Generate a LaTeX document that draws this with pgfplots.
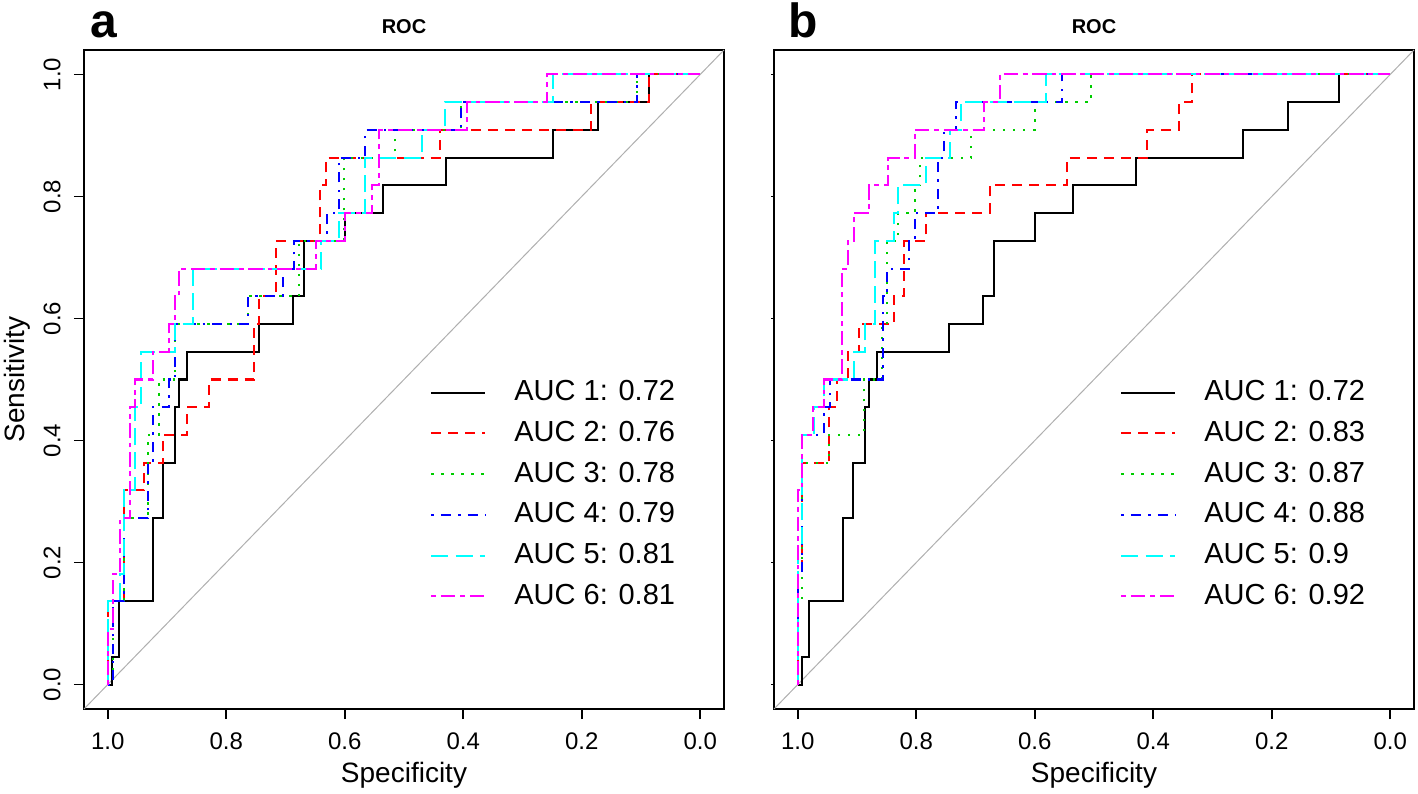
\documentclass[border=0pt]{standalone}
\usepackage{fontspec}
\setmainfont{Liberation Sans}
\usepackage{pgfplots}
\pgfplotsset{compat=1.18}
\definecolor{rgreen}{RGB}{0,205,0}
\definecolor{rred}{RGB}{255,0,0}
\definecolor{rblue}{RGB}{0,0,255}
\definecolor{rcyan}{RGB}{0,255,255}
\definecolor{rmagenta}{RGB}{255,0,255}
\definecolor{rgrey}{RGB}{175,175,175}
\pgfplotsset{
 rocaxis/.style={
  scale only axis, width=320pt, height=329.5pt,
  xmin=-0.04, xmax=1.04, ymin=-0.04, ymax=1.04, x dir=reverse,
  xtick={0,0.2,0.4,0.6,0.8,1}, xticklabels={0.0,0.2,0.4,0.6,0.8,1.0},
  ytick={0,0.2,0.4,0.6,0.8,1},
  tick align=outside, major tick length=5pt, tick pos=left,
  axis line style={line width=0.9pt}, tick style={black, line width=0.9pt},
  tick label style={font=\fontsize{12}{14}\selectfont},
  xticklabel style={anchor=base, yshift=-15pt},
  clip=false,
  title=ROC, every axis title shift=0pt,
  title style={font=\bfseries\fontsize{10}{12}\selectfont, at={(axis description cs:0.5,1.0243)}, anchor=base},
  xlabel=Specificity,
  xlabel style={font=\fontsize{14}{16}\selectfont, at={(axis description cs:0.5,-0.1108)}, anchor=base},
  legend style={at={(axis description cs:0.5406,0.5017)}, anchor=north west, draw=none, fill=none,
    font=\fontsize{14.5}{16}\selectfont, row sep=6.35pt, column sep=14pt, inner sep=0pt,
    nodes={inner sep=0pt, text height=11pt, text depth=3pt}},
  legend cell align=left,
  legend image code/.code={\draw[#1] (0pt,0pt) -- (27pt,0pt);},
 },
 s1/.style={black, line width=1pt, solid},
 s2/.style={rred, line width=1pt, dash pattern=on 5pt off 3.5pt},
 s3/.style={rgreen, line width=1pt, dash pattern=on 1.2pt off 3.8pt},
 s4/.style={rblue, line width=1pt, dash pattern=on 1.2pt off 3.6pt on 5pt off 3.6pt},
 s5/.style={rcyan, line width=1pt, dash pattern=on 8.5pt off 3.6pt},
 s6/.style={rmagenta, line width=1pt, dash pattern=on 2.4pt off 2.4pt on 7.2pt off 2.4pt},
}
\begin{document}
\begin{tikzpicture}
\path[use as bounding box] (0,0) rectangle (709pt,396.5pt);
% ---------------- panel a ----------------
\begin{axis}[rocaxis, at={(42pt,42pt)}, anchor=south west,
  yticklabels={0.0,0.2,0.4,0.6,0.8,1.0},
  yticklabel style={rotate=90, anchor=base, yshift=6.75pt},
  ylabel=Sensitivity,
  ylabel style={font=\fontsize{14}{16}\selectfont, at={(axis description cs:-0.0922,0.5)}, anchor=base}]
\addplot[rgrey, line width=0.5pt, forget plot] coordinates {(1.04,-0.04)(-0.04,1.04)};
\addplot[s1] coordinates {(1,0)(0.992,0)(0.992,0.0455)(0.981,0.0455)(0.981,0.1364)(0.924,0.1364)(0.924,0.2727)(0.906,0.2727)(0.906,0.3636)(0.887,0.3636)(0.887,0.4545)(0.879,0.4545)(0.879,0.5)(0.867,0.5)(0.867,0.5455)(0.744,0.5455)(0.744,0.5909)(0.687,0.5909)(0.687,0.6364)(0.668,0.6364)(0.668,0.7273)(0.600,0.7273)(0.600,0.7727)(0.535,0.7727)(0.535,0.8182)(0.429,0.8182)(0.429,0.8636)(0.248,0.8636)(0.248,0.9091)(0.172,0.9091)(0.172,0.9545)(0.087,0.9545)(0.087,1)(0,1)};
\addlegendentry{AUC 1: 0.72}
\addplot[s2] coordinates {(1,0)(1,0.1364)(0.9725,0.1364)(0.9725,0.3182)(0.938,0.3182)(0.938,0.3636)(0.906,0.3636)(0.906,0.4091)(0.866,0.4091)(0.866,0.4545)(0.829,0.4545)(0.829,0.5)(0.753,0.5)(0.753,0.5909)(0.745,0.5909)(0.745,0.6364)(0.7165,0.6364)(0.7165,0.7273)(0.641,0.7273)(0.641,0.8182)(0.631,0.8182)(0.631,0.8636)(0.439,0.8636)(0.439,0.9091)(0.184,0.9091)(0.184,0.9545)(0.087,0.9545)(0.087,1)(0,1)};
\addlegendentry{AUC 2: 0.76}
\addplot[s3] coordinates {(1,0)(0.991,0)(0.991,0.1364)(0.9725,0.1364)(0.9725,0.2727)(0.932,0.2727)(0.932,0.4091)(0.914,0.4091)(0.914,0.5)(0.886,0.5)(0.886,0.5909)(0.7625,0.5909)(0.7625,0.6364)(0.677,0.6364)(0.677,0.7273)(0.602,0.7273)(0.602,0.8636)(0.516,0.8636)(0.516,0.9091)(0.403,0.9091)(0.403,0.9545)(0.1076,0.9545)(0.1076,1)(0,1)};
\addlegendentry{AUC 3: 0.78}
\addplot[s4] coordinates {(1,0)(0.991,0)(0.991,0.1364)(0.9725,0.1364)(0.9725,0.2727)(0.932,0.2727)(0.932,0.3636)(0.924,0.3636)(0.924,0.4545)(0.896,0.4545)(0.896,0.5)(0.886,0.5)(0.886,0.5909)(0.7625,0.5909)(0.7625,0.6364)(0.705,0.6364)(0.705,0.6818)(0.686,0.6818)(0.686,0.7273)(0.630,0.7273)(0.630,0.7727)(0.610,0.7727)(0.610,0.8636)(0.565,0.8636)(0.565,0.9091)(0.403,0.9091)(0.403,0.9545)(0.1076,0.9545)(0.1076,1)(0,1)};
\addlegendentry{AUC 4: 0.79}
\addplot[s5] coordinates {(1,0)(1,0.1364)(0.9787,0.1364)(0.9787,0.1818)(0.9725,0.1818)(0.9725,0.3182)(0.9546,0.3182)(0.9546,0.4545)(0.9434,0.4545)(0.9434,0.5455)(0.887,0.5455)(0.887,0.5909)(0.8566,0.5909)(0.8566,0.6818)(0.6398,0.6818)(0.6398,0.7273)(0.610,0.7273)(0.610,0.7727)(0.565,0.7727)(0.565,0.8636)(0.470,0.8636)(0.470,0.9091)(0.431,0.9091)(0.431,0.9545)(0.249,0.9545)(0.249,1)(0,1)};
\addlegendentry{AUC 5: 0.81}
\addplot[s6] coordinates {(1,0)(1,0.0909)(0.991,0.0909)(0.991,0.1818)(0.9787,0.1818)(0.9787,0.2727)(0.963,0.2727)(0.963,0.4545)(0.9546,0.4545)(0.9546,0.5)(0.924,0.5)(0.924,0.5455)(0.896,0.5455)(0.896,0.5909)(0.887,0.5909)(0.887,0.6364)(0.879,0.6364)(0.879,0.6818)(0.649,0.6818)(0.649,0.7273)(0.599,0.7273)(0.599,0.7727)(0.554,0.7727)(0.554,0.8182)(0.543,0.8182)(0.543,0.9091)(0.394,0.9091)(0.394,0.9545)(0.259,0.9545)(0.259,1)(0,1)};
\addlegendentry{AUC 6: 0.81}
\node[anchor=base west, inner sep=0pt, font=\bfseries\fontsize{24}{28}\selectfont] at (axis description cs:0.0094,1.0197) {a};
\end{axis}
% ---------------- panel b ----------------
\begin{axis}[rocaxis, at={(387pt,42pt)}, anchor=south west,
  yticklabels={}, y tick style={/pgfplots/major tick length=1.5pt}]
\addplot[rgrey, line width=0.5pt, forget plot] coordinates {(1.04,-0.04)(-0.04,1.04)};
\addplot[s1] coordinates {(1,0)(0.992,0)(0.992,0.0455)(0.981,0.0455)(0.981,0.1364)(0.924,0.1364)(0.924,0.2727)(0.906,0.2727)(0.906,0.3636)(0.887,0.3636)(0.887,0.4545)(0.879,0.4545)(0.879,0.5)(0.867,0.5)(0.867,0.5455)(0.744,0.5455)(0.744,0.5909)(0.687,0.5909)(0.687,0.6364)(0.668,0.6364)(0.668,0.7273)(0.600,0.7273)(0.600,0.7727)(0.535,0.7727)(0.535,0.8182)(0.429,0.8182)(0.429,0.8636)(0.248,0.8636)(0.248,0.9091)(0.172,0.9091)(0.172,0.9545)(0.087,0.9545)(0.087,1)(0,1)};
\addlegendentry{AUC 1: 0.72}
\addplot[s2] coordinates {(1,0)(1,0.1818)(0.9927,0.1818)(0.9927,0.3636)(0.9465,0.3636)(0.9465,0.4545)(0.9336,0.4545)(0.9336,0.5)(0.915,0.5)(0.915,0.5455)(0.897,0.5455)(0.897,0.5909)(0.8378,0.5909)(0.8378,0.6364)(0.8209,0.6364)(0.8209,0.7273)(0.7843,0.7273)(0.7843,0.7727)(0.6762,0.7727)(0.6762,0.8182)(0.5451,0.8182)(0.5451,0.8636)(0.41,0.8636)(0.41,0.9091)(0.356,0.9091)(0.356,0.9545)(0.334,0.9545)(0.334,1)(0,1)};
\addlegendentry{AUC 2: 0.83}
\addplot[s3] coordinates {(1,0)(1,0.1364)(0.9927,0.1364)(0.9927,0.3636)(0.9465,0.3636)(0.9465,0.4091)(0.8874,0.4091)(0.8874,0.5)(0.8576,0.5)(0.8576,0.5909)(0.8491,0.5909)(0.8491,0.7273)(0.8306,0.7273)(0.8306,0.7727)(0.8024,0.7727)(0.8024,0.8182)(0.7928,0.8182)(0.7928,0.8636)(0.7072,0.8636)(0.7072,0.9091)(0.5997,0.9091)(0.5997,0.9545)(0.5056,0.9545)(0.5056,1)(0,1)};
\addlegendentry{AUC 3: 0.87}
\addplot[s4] coordinates {(1,0)(1,0.1818)(0.9927,0.1818)(0.9927,0.4091)(0.956,0.4091)(0.956,0.4545)(0.9459,0.4545)(0.9459,0.5)(0.8565,0.5)(0.8565,0.6364)(0.8491,0.6364)(0.8491,0.6818)(0.8114,0.6818)(0.8114,0.7273)(0.8024,0.7273)(0.8024,0.7727)(0.763,0.7727)(0.763,0.8636)(0.7534,0.8636)(0.7534,0.9091)(0.7337,0.9091)(0.7337,0.9545)(0.5546,0.9545)(0.5546,1)(0,1)};
\addlegendentry{AUC 4: 0.88}
\addplot[s5] coordinates {(1,0)(1,0.2273)(0.9927,0.2273)(0.9927,0.4091)(0.973,0.4091)(0.973,0.4545)(0.956,0.4545)(0.956,0.5)(0.9054,0.5)(0.9054,0.5455)(0.8868,0.5455)(0.8868,0.5909)(0.8688,0.5909)(0.8688,0.7273)(0.8378,0.7273)(0.8378,0.7727)(0.8306,0.7727)(0.8306,0.8182)(0.7843,0.8182)(0.7843,0.8636)(0.7438,0.8636)(0.7438,0.9091)(0.7252,0.9091)(0.7252,0.9545)(0.5816,0.9545)(0.5816,1)(0,1)};
\addlegendentry{AUC 5: 0.9}
\addplot[s6] coordinates {(1,0)(1,0.3182)(0.9927,0.3182)(0.9927,0.4091)(0.9741,0.4091)(0.9741,0.4545)(0.9551,0.4545)(0.9551,0.5)(0.925,0.5)(0.925,0.6818)(0.915,0.6818)(0.915,0.7273)(0.9054,0.7273)(0.9054,0.7727)(0.8789,0.7727)(0.8789,0.8182)(0.8474,0.8182)(0.8474,0.8636)(0.8024,0.8636)(0.8024,0.9091)(0.6858,0.9091)(0.6858,0.9545)(0.6594,0.9545)(0.6594,1)(0,1)};
\addlegendentry{AUC 6: 0.92}
\node[anchor=base west, inner sep=0pt, font=\bfseries\fontsize{24}{28}\selectfont] at (axis description cs:0.0219,1.0197) {b};
\end{axis}
\end{tikzpicture}
\end{document}
